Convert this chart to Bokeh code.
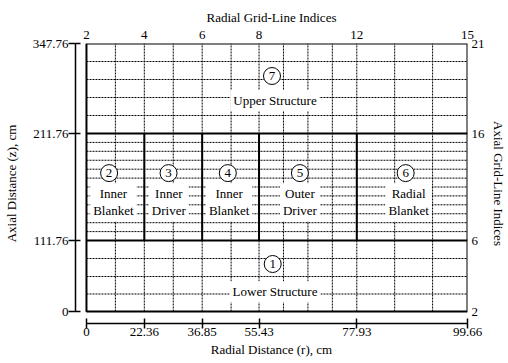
from bokeh.plotting import figure
from bokeh.models import LinearAxis, FixedTicker, Range1d
from bokeh.core.properties import value
from bokeh.embed import file_html
from bokeh.resources import INLINE

# ---- data (schematic drawing units) ----
radial_index = [2, 3, 4, 5, 6, 7, 8, 9, 10, 11, 12, 13, 14, 15]
radial_pos = [0, 29, 58, 87, 116, 145, 173, 197.5, 222, 246.5, 271, 309, 347, 382]
radial_bound_index = [2, 4, 6, 8, 12, 15]
radial_bound_pos = [0, 58, 116, 173, 271, 382]
radial_cm = ["0", "22.36", "36.85", "55.43", "77.93", "99.66"]

axial_line_pos = [0, 17.5, 35, 53, 71, 79.9, 88.8, 97.75, 106.7, 115.6, 124.5,
                  133.4, 142.3, 151.25, 160.2, 169.1, 178, 196, 214, 232, 250, 268]
axial_bound_index = [2, 6, 16, 21]
axial_bound_pos = [0, 71, 178, 268]
axial_cm = ["0", "111.76", "211.76", "347.76"]

region_ids = ["1", "2", "3", "4", "5", "6", "7"]
region_names = ["Lower Structure", "Inner\nBlanket", "Inner\nDriver", "Inner\nBlanket",
                "Outer\nDriver", "Radial\nBlanket", "Upper Structure"]
id_x = [186.7, 22.7, 82.3, 141.7, 214, 320, 186]
id_y = [47.5, 138.4, 138.4, 138.4, 138.4, 138.4, 235.5]
name_x = [189, 27, 82.5, 143, 214, 323, 189]
name_y = [19.7, 109.2, 109.2, 109.2, 109.2, 109.2, 211]

FONT = value("Liberation Serif")
FS = "13px"

p = figure(width=508, height=363,
           x_range=Range1d(-11, 382), y_range=Range1d(-12, 268),
           x_axis_location=None, y_axis_location=None,
           output_backend="svg", toolbar_location=None,
           min_border_left=75, min_border_right=40,
           min_border_top=43, min_border_bottom=40)
p.outline_line_color = None
p.grid.visible = False
p.background_fill_color = "white"

x0, x1 = radial_pos[0], radial_pos[-1]
y0, y1 = axial_line_pos[0], axial_line_pos[-1]

# dashed grid
vx = radial_pos[1:-1]
p.segment(x0=vx, y0=[y0] * len(vx), x1=vx, y1=[y1] * len(vx),
          line_color="black", line_width=1, line_dash="2 1")
hy = axial_line_pos[1:-1]
p.segment(x0=[x0] * len(hy), y0=hy, x1=[x1] * len(hy), y1=hy,
          line_color="black", line_width=1, line_dash="2 1")

# solid region boundaries
core_lo, core_hi = axial_bound_pos[1], axial_bound_pos[2]
p.segment(x0=[x0, x0], y0=[core_lo, core_hi], x1=[x1, x1], y1=[core_lo, core_hi],
          line_color="black", line_width=2)
bx = radial_bound_pos[1:-1]
p.segment(x0=bx, y0=[core_lo] * len(bx), x1=bx, y1=[core_hi] * len(bx),
          line_color="black", line_width=2)
# outer box
p.quad(left=[x0], right=[x1], bottom=[y0], top=[y1], fill_color=None,
       line_color="black", line_width=2)

# region labels
p.text(x=name_x, y=name_y, text=region_names, text_font=FONT, text_font_size=FS,
       text_align="center", text_baseline="middle", text_color="black",
       text_line_height=1.15, background_fill_color="white", padding=3)
p.scatter(x=id_x, y=id_y, marker="circle", size=17, fill_color="white",
          line_color="black", line_width=1)
p.text(x=id_x, y=id_y, text=region_ids, text_font=FONT, text_font_size=FS,
       text_align="center", text_baseline="middle", text_color="black")

def style(ax):
    ax.major_label_text_font = "Liberation Serif"
    ax.major_label_text_font_size = FS
    ax.major_label_text_color = "black"
    ax.axis_label_text_font = "Liberation Serif"
    ax.axis_label_text_font_size = FS
    ax.axis_label_text_font_style = "normal"
    ax.axis_label_text_color = "black"
    ax.minor_tick_line_color = None

# bottom axis (cm)
bottom = LinearAxis(ticker=FixedTicker(ticks=radial_bound_pos),
                    axis_label="Radial Distance (r), cm")
bottom.major_label_overrides = {k: v for k, v in zip(radial_bound_pos, radial_cm)}
bottom.bounds = (x0, x1)
bottom.axis_line_width = 1.5
bottom.major_tick_line_width = 1.5
bottom.major_tick_in = 5
bottom.major_tick_out = 5
bottom.major_label_standoff = -1
bottom.axis_label_standoff = 3
style(bottom)
p.add_layout(bottom, "below")

# left axis (cm)
left = LinearAxis(ticker=FixedTicker(ticks=axial_bound_pos),
                  axis_label="Axial Distance (z), cm")
left.major_label_overrides = {k: v for k, v in zip(axial_bound_pos, axial_cm)}
left.bounds = (y0, y1)
left.axis_line_width = 1.5
left.major_tick_line_width = 1.5
left.major_tick_in = 5
left.major_tick_out = 7
left.major_label_standoff = 0
left.axis_label_standoff = 11
style(left)
p.add_layout(left, "left")

# top axis (radial indices)
top = LinearAxis(ticker=FixedTicker(ticks=radial_bound_pos),
                 axis_label="Radial Grid-Line Indices")
top.major_label_overrides = {k: str(v) for k, v in zip(radial_bound_pos, radial_bound_index)}
top.axis_line_color = None
top.major_tick_line_color = None
top.major_tick_in = 0
top.major_tick_out = 0
top.major_label_standoff = 5
top.axis_label_standoff = 3
style(top)
p.add_layout(top, "above")

# right axis (axial indices)
right = LinearAxis(ticker=FixedTicker(ticks=axial_bound_pos),
                   axis_label="Axial Grid-Line Indices")
right.major_label_overrides = {k: str(v) for k, v in zip(axial_bound_pos, axial_bound_index)}
right.axis_line_color = None
right.major_tick_line_color = None
right.major_tick_in = 0
right.major_tick_out = 0
right.major_label_standoff = 4
right.axis_label_standoff = 3
style(right)
p.add_layout(right, "right")

open("out.html", "w").write(file_html(p, INLINE))
